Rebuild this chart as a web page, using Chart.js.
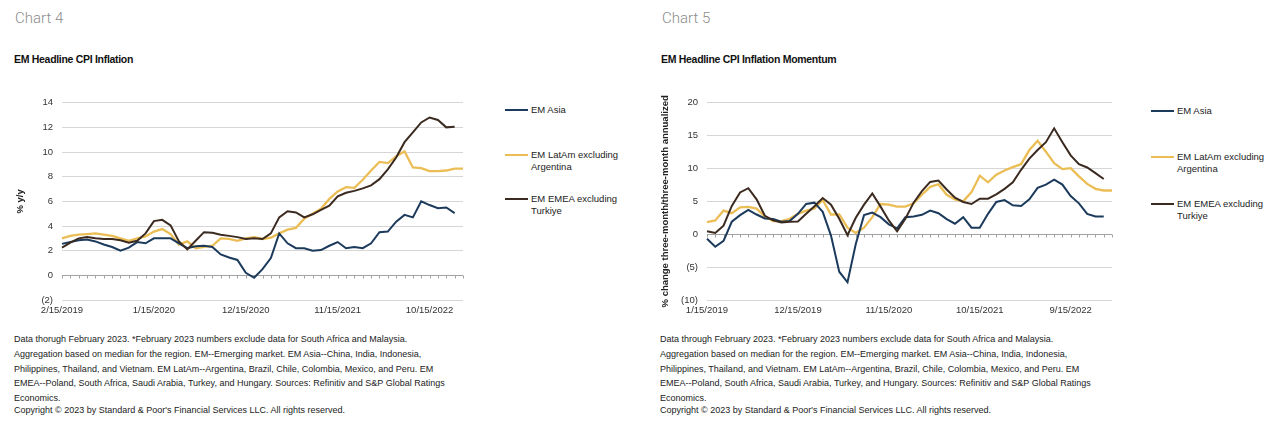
<!DOCTYPE html>
<html>
<head>
<meta charset="utf-8">
<script src="https://cdn.jsdelivr.net/npm/chart.js@4.4.0/dist/chart.umd.min.js"></script>
<style>
  body { margin: 0; background: #fff; width: 1285px; height: 423px; overflow: hidden; position: relative;
         font-family: "Liberation Sans", Arial, sans-serif; color: #222; }
  .num { position: absolute; top: 9px; font-family: Roboto, "Liberation Sans", sans-serif; font-weight: 300;
         font-size: 15px; color: #8c8c8c; }
  .sub { position: absolute; top: 53px; font-weight: bold; font-size: 10.5px; letter-spacing: -0.3px; color: #111; }
  .box { position: absolute; top: 88px; height: 235px; }
  .leg { position: absolute; font-size: 9.5px; color: #222; line-height: 11.5px; }
  .leg i { position: absolute; left: -26px; top: 5px; width: 23px; height: 2px; }
  .note { position: absolute; top: 332px; font-size: 9px; line-height: 14.8px; color: #222; white-space: nowrap; }
  .copy { position: absolute; top: 405px; font-size: 9px; color: #222; white-space: nowrap; }
</style>
</head>
<body>
<div class="num" style="left:15px">Chart 4</div>
<div class="sub" style="left:14px">EM Headline CPI Inflation</div>
<div class="box" style="left:0;width:480px"><canvas id="c4"></canvas></div>
<div class="leg" style="left:531px;top:104px"><i style="background:#1b3a5c"></i>EM Asia</div>
<div class="leg" style="left:531px;top:149px"><i style="background:#ebbd55"></i>EM LatAm excluding<br>Argentina</div>
<div class="leg" style="left:531px;top:193px"><i style="background:#3b2a1f"></i>EM EMEA excluding<br>Turkiye</div>
<div class="note" style="left:14px">Data thorugh February 2023. *February 2023 numbers exclude data for South Africa and Malaysia.<br>Aggregation based on median for the region. EM--Emerging market. EM Asia--China, India, Indonesia,<br>Philippines, Thailand, and Vietnam. EM LatAm--Argentina, Brazil, Chile, Colombia, Mexico, and Peru. EM<br>EMEA--Poland, South Africa, Saudi Arabia, Turkey, and Hungary. Sources: Refinitiv and S&amp;P Global Ratings<br>Economics.</div>
<div class="copy" style="left:14px">Copyright © 2023 by Standard &amp; Poor's Financial Services LLC. All rights reserved.</div>

<div class="num" style="left:662px">Chart 5</div>
<div class="sub" style="left:661px">EM Headline CPI Inflation Momentum</div>
<div class="box" style="left:640px;width:490px"><canvas id="c5"></canvas></div>
<div class="leg" style="left:1177px;top:105px"><i style="background:#1b3a5c"></i>EM Asia</div>
<div class="leg" style="left:1177px;top:151px"><i style="background:#ebbd55"></i>EM LatAm excluding<br>Argentina</div>
<div class="leg" style="left:1177px;top:198px"><i style="background:#3b2a1f"></i>EM EMEA excluding<br>Turkiye</div>
<div class="note" style="left:660px">Data through February 2023. *February 2023 numbers exclude data for South Africa and Malaysia.<br>Aggregation based on median for the region. EM--Emerging market. EM Asia--China, India, Indonesia,<br>Philippines, Thailand, and Vietnam. EM LatAm--Argentina, Brazil, Chile, Colombia, Mexico, and Peru. EM<br>EMEA--Poland, South Africa, Saudi Arabia, Turkey, and Hungary. Sources: Refinitiv and S&amp;P Global Ratings<br>Economics.</div>
<div class="copy" style="left:660px">Copyright © 2023 by Standard &amp; Poor's Financial Services LLC. All rights reserved.</div>

<script>
// --- data ---
const months5 = [
  "1/15/2019", "2/15/2019", "3/15/2019", "4/15/2019", "5/15/2019", "6/15/2019",
  "7/15/2019", "8/15/2019", "9/15/2019", "10/15/2019", "11/15/2019", "12/15/2019",
  "1/15/2020", "2/15/2020", "3/15/2020", "4/15/2020", "5/15/2020", "6/15/2020",
  "7/15/2020", "8/15/2020", "9/15/2020", "10/15/2020", "11/15/2020", "12/15/2020",
  "1/15/2021", "2/15/2021", "3/15/2021", "4/15/2021", "5/15/2021", "6/15/2021",
  "7/15/2021", "8/15/2021", "9/15/2021", "10/15/2021", "11/15/2021", "12/15/2021",
  "1/15/2022", "2/15/2022", "3/15/2022", "4/15/2022", "5/15/2022", "6/15/2022",
  "7/15/2022", "8/15/2022", "9/15/2022", "10/15/2022", "11/15/2022", "12/15/2022",
  "1/15/2023", "2/15/2023"
];
const months4 = months5.slice(1); // chart 4 starts Feb 2019

const seriesNames = ["EM Asia", "EM LatAm excluding Argentina", "EM EMEA excluding Turkiye"];
const seriesColors = ["#1b3a5c", "#ebbd55", "#3b2a1f"];

// Chart 4: % y/y
const asia4 = [2.55, 2.7, 2.85, 2.9, 2.75, 2.5, 2.3, 2.0, 2.25, 2.7, 2.6, 3.0, 3.0, 3.0, 2.6, 2.2, 2.35, 2.4, 2.3, 1.7,
  1.45, 1.25, 0.2, -0.2, 0.5, 1.4, 3.4, 2.6, 2.2, 2.2, 2.0, 2.05, 2.4, 2.7, 2.2, 2.3, 2.2, 2.6, 3.5, 3.55,
  4.35, 4.9, 4.7, 6.0, 5.7, 5.45, 5.5, 5.05, null];
const latam4 = [3.0, 3.2, 3.3, 3.35, 3.4, 3.3, 3.2, 3.0, 2.8, 3.0, 3.15, 3.55, 3.75, 3.35, 2.5, 2.75, 2.2, 2.3, 2.4, 3.0,
  2.95, 2.8, 3.0, 3.1, 2.95, 3.05, 3.4, 3.7, 3.85, 4.6, 5.0, 5.4, 6.2, 6.8, 7.15, 7.1, 7.75, 8.5, 9.2, 9.1,
  9.65, 10.05, 8.75, 8.7, 8.45, 8.45, 8.5, 8.65, 8.65];
const emea4 = [2.25, 2.65, 3.0, 3.1, 3.0, 2.95, 2.95, 2.85, 2.65, 2.8, 3.4, 4.4, 4.5, 4.05, 2.75, 2.1, 2.8, 3.5, 3.45, 3.3,
  3.2, 3.1, 2.95, 3.0, 2.95, 3.4, 4.7, 5.2, 5.1, 4.7, 4.95, 5.3, 5.65, 6.4, 6.7, 6.85, 7.05, 7.3, 7.8, 8.6,
  9.55, 10.8, 11.6, 12.4, 12.8, 12.6, 12.0, 12.05, null];

// Chart 5: % change three-month/three-month annualized
const asia5 = [-0.7, -1.9, -1.0, 1.9, 2.9, 3.7, 3.0, 2.4, 2.3, 1.9, 2.0, 3.1, 4.6, 4.8, 3.4, -0.2, -5.7, -7.3, -1.5, 2.9,
  3.3, 2.6, 1.5, 0.9, 2.6, 2.7, 2.95, 3.6, 3.2, 2.3, 1.6, 2.6, 1.0, 1.0, 3.1, 4.9, 5.2, 4.4, 4.3, 5.3,
  7.05, 7.55, 8.3, 7.55, 5.8, 4.7, 3.1, 2.7, 2.7, null];
const latam5 = [1.85, 2.1, 3.6, 3.2, 4.1, 4.15, 3.9, 2.7, 2.0, 2.0, 2.35, 3.1, 3.6, 3.9, 5.2, 3.0, 3.0, 1.0, 0.2, 1.0,
  2.6, 4.6, 4.5, 4.2, 4.2, 4.7, 6.0, 7.2, 7.6, 6.0, 5.3, 5.0, 6.4, 8.9, 7.9, 9.05, 9.7, 10.2, 10.65, 12.8,
  14.2, 12.55, 10.8, 9.9, 10.05, 8.8, 7.65, 6.9, 6.65, 6.65];
const emea5 = [0.45, 0.2, 1.3, 4.3, 6.35, 7.0, 5.3, 2.8, 2.1, 1.8, 1.9, 1.95, 3.1, 4.25, 5.5, 4.5, 2.35, -0.15, 2.5, 4.5,
  6.2, 4.2, 2.1, 0.45, 2.35, 4.8, 6.55, 7.95, 8.15, 6.8, 5.55, 4.9, 4.6, 5.4, 5.4, 6.05, 6.9, 7.9, 9.8, 11.5,
  12.8, 14.0, 16.1, 14.0, 12.0, 10.65, 10.15, 9.3, 8.4, null];

const yTicks4 = [-2, 0, 2, 4, 6, 8, 10, 12, 14];
const yTicks5 = [-10, -5, 0, 5, 10, 15, 20];
const labelEvery = 11;

// small tick marks along the zero line, one per month
const zeroTicks = {
  id: "zeroTicks",
  beforeDatasetsDraw(chart) {
    const x = chart.scales.x, y = chart.scales.y, ctx = chart.ctx;
    const y0 = Math.round(y.getPixelForValue(0)) + 0.5;
    ctx.save();
    ctx.strokeStyle = "#a3a3a3";
    ctx.lineWidth = 1;
    ctx.beginPath();
    for (let i = 0; i < chart.data.labels.length; i++) {
      const px = Math.round(x.getPixelForValue(i)) + 0.5;
      ctx.moveTo(px, y0);
      ctx.lineTo(px, y0 + 3);
    }
    ctx.stroke();
    ctx.restore();
  }
};

function fmt(v) {
  return v < 0 ? "(" + (-v) + ")" : String(v);
}

function makeChart(id, labels, data, yTicks, yTitle, yWidth, padRight, titlePad) {
  const ctx = document.getElementById(id).getContext("2d");
  return new Chart(ctx, {
    type: "line",
    data: {
      labels: labels,
      datasets: data.map((d, k) => ({
        label: seriesNames[k],
        data: d,
        borderColor: seriesColors[k],
        borderWidth: k === 1 ? 2.3 : 2,
        pointRadius: 0,
        tension: 0,
        fill: false,
        order: k === 2 ? 0 : (k === 1 ? 2 : 1)
      }))
    },
    options: {
      responsive: true,
      maintainAspectRatio: false,
      animation: false,
      layout: { padding: { top: 10, right: padRight, left: 0, bottom: 0 } },
      plugins: { legend: { display: false }, tooltip: { enabled: false } },
      scales: {
        x: {
          grid: { display: false, drawTicks: false },
          border: { display: false },
          ticks: {
            autoSkip: false, maxRotation: 0, minRotation: 0, padding: 5,
            color: "#333", font: { family: "Liberation Sans", size: 9.5 },
            callback: function (v, i) { return i % labelEvery === 0 ? labels[i] : ""; }
          },
          afterFit: function (s) { s.height = 23; }
        },
        y: {
          min: yTicks[0],
          max: yTicks[yTicks.length - 1],
          grid: {
            drawTicks: false,
            lineWidth: 1,
            color: (c) => (c.tick && c.tick.value === 0 ? "#a3a3a3" : "#d6d6d6")
          },
          border: { display: false },
          ticks: {
            stepSize: yTicks[1] - yTicks[0], padding: 9,
            color: "#333", font: { family: "Liberation Sans", size: 9.5 },
            callback: fmt
          },
          title: {
            display: true, text: yTitle, color: "#222",
            font: { family: "Liberation Sans", size: 9.5, weight: "bold" },
            padding: { top: titlePad, bottom: 0 }
          },
          afterFit: function (s) { s.width = yWidth; }
        }
      }
    },
    plugins: [zeroTicks]
  });
}

makeChart("c4", months4, [asia4, latam4, emea4], yTicks4, "% y/y", 62, 17, 15);
makeChart("c5", months5, [asia5, latam5, emea5], yTicks5, "% change three-month/three-month annualized", 67, 18, 20);
</script>
</body>
</html>
